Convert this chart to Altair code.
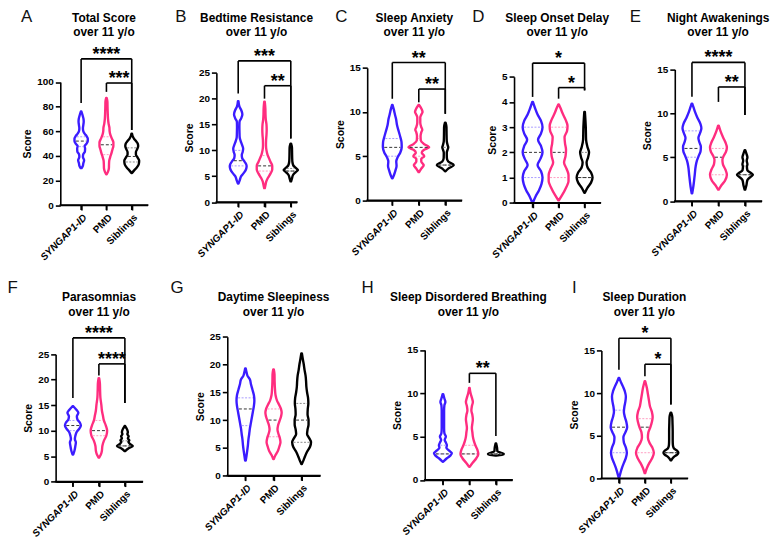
import altair as alt
import numpy as np
import pandas as pd

GROUPS = ["SYNGAP1-ID", "PMD", "Siblings"]
COLORS = ["#3b1cff", "#ff2d7f", "#000000"]
QCOLORS = ["#a99cff", "#ff9dc2", "#8a8a8a"]
LETTERS = ["A", "B", "C", "D", "E", "F", "G", "H", "I"]
TITLES = ["Total Score", "Bedtime Resistance", "Sleep Anxiety", "Sleep Onset Delay",
          "Night Awakenings", "Parasomnias", "Daytime Sleepiness",
          "Sleep Disordered Breathing", "Sleep Duration"]
SUBTITLE = "over 11 y/o"

# violin outlines: (score, half-width)
A_SYN = [(30,0.5),(32,1.8),(34,2.2),(36.5,3),(39,1.8),(41,2),(43.5,3.8),(46,4),(48,3.5),(50,5.5),(52,6.7),(54,6.7),(56,5.5),(58,3.5),(60,2.2),(62.5,1.8),(65,2.2),(68,2.6),(70,2.4),(72,1.8),(74,1.1),(76,0.3)]
A_PMD = [(25,0.3),(27,1.5),(30,2.5),(33,2.6),(36,2.8),(39,3.8),(42,5),(45,6),(48,7),(51,7),(54,5.5),(57,4),(60,3.2),(63,3),(66,2.2),(70,1.6),(75,1.3),(80,1.1),(84,1),(87,0.3)]
A_SIB = [(26,0.3),(28,2.2),(30,4.5),(33,7),(36,7.5),(38.5,6),(41,4.2),(43,4.2),(45.5,5.5),(48,6.5),(50,6),(52,4.2),(54,2.2),(56,0.9),(58,0.3)]
B_SYN = [(3.6,0.3),(4.2,1.5),(5,3),(5.6,5.5),(6.3,7.8),(7,8.5),(7.8,6.5),(8.5,4),(9.1,3.6),(9.7,4.5),(10.3,5),(11,4),(11.8,2.5),(12.5,1.5),(13.5,1.3),(14.5,1.2),(15.5,1.3),(16.2,3),(17,4.2),(17.8,3),(18.5,1.2),(19.5,0.3)]
B_PMD = [(2.7,0.3),(3.3,1),(4,1.8),(4.7,3.5),(5.5,6),(6.3,7.8),(7,7.8),(7.8,6),(8.5,4.5),(9.2,3),(10,2),(11,1.5),(12,1.6),(13,2),(14,2.2),(15,2),(16,1.3),(17,1),(18,0.9),(19.4,0.3)]
B_SIB = [(4,0.3),(4.6,1.2),(5.3,2.5),(5.8,5),(6.2,7.2),(6.6,5),(7.1,2.5),(7.8,1.6),(8.5,1.4),(9.5,1.3),(10.5,1.2),(11.3,0.3)]
C_SYN = [(2.5,0.3),(2.9,1.8),(3.4,3.2),(3.9,4.3),(4.4,4.0),(4.9,5.5),(5.4,8),(6.0,9.5),(6.6,9.3),(7.2,8),(7.8,6.5),(8.5,4.8),(9.2,3.8),(9.8,2.5),(10.3,1.5),(10.8,0.3)]
C_PMD = [(3.2,0.3),(3.6,2.5),(4.0,5),(4.4,2.5),(4.7,2.5),(5.0,5.5),(5.4,3),(5.7,5),(6.0,10.5),(6.4,5),(6.8,2),(7.3,1.8),(7.7,2.5),(8.0,3.5),(8.3,2.5),(8.8,1.5),(9.4,1.5),(9.8,3),(10.0,3.8),(10.3,3),(10.8,0.3)]
C_SIB = [(3.3,0.3),(3.6,3),(4.0,8.5),(4.4,3),(4.8,1.6),(5.4,1.5),(5.8,2.5),(6.0,3),(6.2,2.5),(6.7,1.5),(7.5,1.3),(8.3,1.2),(8.8,0.3)]
D_SYN = [(0,0.3),(0.25,3),(0.5,6.5),(0.75,9),(1.0,10),(1.25,8.5),(1.5,5),(1.75,8),(2.0,10),(2.25,8.5),(2.5,5.5),(2.75,8.5),(3.0,10),(3.25,8.5),(3.5,5),(3.75,2.5),(4.0,0.3)]
D_PMD = [(0.1,0.3),(0.3,3.5),(0.6,7.5),(0.85,10),(1.1,10),(1.35,8),(1.6,5.5),(1.85,7),(2.1,7.5),(2.35,6.5),(2.6,6),(2.85,8.5),(3.05,9),(3.3,7),(3.55,4),(3.75,2),(3.9,0.3)]
D_SIB = [(0.4,0.3),(0.6,3),(0.8,6.5),(1.0,8),(1.2,6.5),(1.4,3),(1.6,2),(1.8,3.5),(2.0,4.5),(2.2,3),(2.5,1.5),(3.0,1.2),(3.6,0.3)]
E_SYN = [(0.9,0.3),(1.5,1.2),(2.2,2),(3,2.8),(4,3.8),(4.6,5),(5.2,7),(5.7,8.7),(6.2,9),(6.7,7.5),(7.2,6.5),(7.7,8),(8.3,9.5),(8.8,8.5),(9.5,5.5),(10.2,3),(10.7,1.5),(11.1,0.3)]
E_PMD = [(1.3,0.3),(1.8,3),(2.3,6.5),(3.0,8.5),(3.6,7),(4.2,4.5),(4.7,4),(5.2,5.5),(5.6,7.5),(6.1,8.5),(6.7,7),(7.3,4.5),(8.0,2),(8.6,0.3)]
E_SIB = [(1.3,0.3),(1.8,1.5),(2.4,2.5),(2.8,6),(3.0,8),(3.2,6),(3.5,2.5),(3.9,2),(4.2,2.5),(4.6,1.8),(5.0,2.5),(5.4,1.5),(5.8,0.3)]
F_SYN = [(5.3,0.3),(6,1.5),(7,2.5),(7.7,3),(8.3,2),(9,2.5),(9.8,4),(10.4,6.5),(11,8),(11.6,7),(12.2,4.5),(12.8,4),(13.5,5.5),(14.1,3.5),(14.8,0.3)]
F_PMD = [(4.7,0.3),(5.3,2),(6,3),(7,3.5),(8,5),(9,7.5),(10,8.3),(11,7),(12,5),(13,4),(14,3),(15,2.5),(16.5,1.5),(18,1.2),(19.3,1),(20.3,0.3)]
F_SIB = [(6.0,0.3),(6.5,3.5),(7.0,8),(7.4,5),(7.8,3.5),(8.1,4.5),(8.5,3),(8.9,3.8),(9.3,2.5),(9.7,3),(10.1,2.5),(10.5,1.5),(10.9,0.3)]
G_SYN = [(2.7,0.3),(3.5,1),(4.5,1.8),(5.5,2.5),(6.5,3),(7.5,3.8),(8.5,4.5),(9.5,5.5),(10.5,6.5),(11.5,7.5),(12.5,8.5),(13.5,9),(14.5,8.5),(15.5,7),(16.5,5.5),(17.3,4.5),(18,2),(18.7,1),(19.3,0.3)]
G_PMD = [(3,0.3),(3.7,2),(4.5,4.5),(5.3,6),(6,7),(6.8,6.3),(7.5,5),(8.3,4),(9,4.5),(9.8,6),(10.6,7.5),(11.3,8.2),(12,7.5),(12.8,5.5),(13.5,3.5),(14.5,2),(15.5,1.5),(17,1.1),(18.2,1),(19.1,0.3)]
G_SIB = [(2.1,0.3),(2.8,2),(3.5,3.5),(4.3,5.5),(5.2,8.5),(6,9.5),(6.8,7.5),(7.5,5.5),(8.3,6),(9.2,7),(10,7),(11,6),(12,6.2),(13,6.8),(14,6.5),(15,5.5),(16,4.8),(17,4.5),(18,4),(19,3),(20,2.2),(21,1.2),(22,0.3)]
H_SYN = [(2.1,0.3),(2.5,4),(2.8,7.5),(3.1,9),(3.4,6),(3.7,3.5),(4.0,4),(4.3,3),(4.6,1.8),(5.0,3),(5.4,1.5),(6,1.2),(7,1.2),(8,1.2),(8.6,1.5),(9.0,2.5),(9.4,1.5),(9.9,0.3)]
H_PMD = [(1.5,0.3),(2,3.5),(2.5,7),(3,9),(3.5,8),(4,6),(4.5,4.5),(5,3.5),(5.5,3),(6,2.5),(6.5,3),(7,3.5),(7.5,3),(8,2),(8.5,2.5),(9,3.5),(9.5,2.5),(10,1.2),(10.6,0.3)]
H_SIB = [(2.8,0.3),(2.9,6),(3.0,8),(3.1,6),(3.3,1.5),(3.7,1.2),(4.2,0.3)]
I_SYN = [(0.1,0.3),(0.6,1.5),(1.2,3),(1.8,5),(2.4,7),(3.0,8),(3.6,7),(4.2,5),(4.8,4.5),(5.4,6.5),(6.0,8.3),(6.6,7.5),(7.2,6),(7.8,5),(8.4,5.5),(9,6.5),(9.6,7),(10.2,6),(10.8,4),(11.3,2),(11.8,0.3)]
I_PMD = [(0.6,0.3),(1.2,2),(1.8,4.5),(2.4,7.5),(3.0,9),(3.6,7.5),(4.2,4.5),(4.8,3),(5.4,3.5),(6.0,5.5),(6.6,7),(7.2,7.8),(7.8,7),(8.5,5),(9.2,4),(9.9,3),(10.6,2),(11.4,0.3)]
I_SIB = [(2.1,0.3),(2.5,3),(2.8,6.5),(3.0,7.5),(3.2,6.5),(3.5,3),(3.9,2),(4.5,1.8),(5.5,1.8),(6.5,1.6),(7.2,1.4),(7.7,0.3)]

# quartiles (q1, median, q3) per group
A_Q = [(47.5,52,55.5),(41,49,55.5),(35,39.5,46.5)]
B_Q = [(7,8,10),(6,7,9),(6,6,6.5)]
C_Q = [(5,6,7),(5,6,7),(4,4,6)]
D_Q = [(1,2,3),(1,2,3),(1,1,2)]
E_Q = [(5,6,8),(3,5,6),(3,3,4)]
F_Q = [(10,11,12),(9,10,12),(7,7,8)]
G_Q = [(9,12,14),(7,10,12),(6,10,13)]
H_Q = [(3,3,4),(3,3,4),(3,3,3)]
I_Q = [(3,6,8),(3,6,7),(3,3,3)]

# significance brackets: (from group, to group, top, left end, right end, label)
A_BR = [(0,2,118.8,83,61,"****"),(1,2,99.2,92,61,"***")]
B_BR = [(0,2,27.3,21,12.3,"***"),(1,2,22.5,20,12.3,"**")]
C_BR = [(0,2,15.6,11.5,9.8,"**"),(1,2,12.6,11.1,9.8,"**")]
D_BR = [(0,2,5.54,4.2,4.46,"*"),(1,2,4.57,4.13,4.46,"*")]
E_BR = [(0,2,15.8,11.9,9.8,"****"),(1,2,13.0,11.3,9.8,"**")]
F_BR = [(0,2,28.2,16.4,15.4,"****"),(1,2,23.1,20.8,15.4,"****")]
G_BR = []
H_BR = [(1,2,12.3,11.2,5.07,"**")]
I_BR = [(0,2,16.45,12.75,8.67,"*"),(1,2,13.4,12.0,8.67,"*")]

TICKS = {
    "A": [0, 20, 40, 60, 80, 100], "B": [0, 5, 10, 15, 20, 25], "C": [0, 5, 10, 15],
    "D": [0, 1, 2, 3, 4, 5], "E": [0, 5, 10, 15], "F": [0, 5, 10, 15, 20, 25],
    "G": [0, 5, 10, 15, 20, 25], "H": [0, 5, 10, 15], "I": [0, 5, 10, 15],
}
CATS = [0, 1, 2]

PROFILES = {"A": [A_SYN, A_PMD, A_SIB], "B": [B_SYN, B_PMD, B_SIB], "C": [C_SYN, C_PMD, C_SIB],
            "D": [D_SYN, D_PMD, D_SIB], "E": [E_SYN, E_PMD, E_SIB], "F": [F_SYN, F_PMD, F_SIB],
            "G": [G_SYN, G_PMD, G_SIB], "H": [H_SYN, H_PMD, H_SIB], "I": [I_SYN, I_PMD, I_SIB]}
QUARTS = {"A": A_Q, "B": B_Q, "C": C_Q, "D": D_Q, "E": E_Q, "F": F_Q, "G": G_Q, "H": H_Q, "I": I_Q}
BRACKETS = {"A": A_BR, "B": B_BR, "C": C_BR, "D": D_BR, "E": E_BR, "F": F_BR, "G": G_BR, "H": H_BR, "I": I_BR}

# ---- layout (page pixels) ----
X0 = 54.3
ROW_T = [65.5, 336.5]
ROW_B = [204.0, 482.7]
# key: (plot left, plot width, plot top, plot bottom, first category offset, category spacing)
LAYOUT = {
    "A": (59.0, 88.0, 80.0, 204.0, 21.0, 25.5),
    "B": (215.7, 81.0, 70.7, 201.0, 22.0, 26.5),
    "C": (367.0, 95.0, 65.7, 199.3, 25.3, 26.7),
    "D": (515.0, 87.0, 74.7, 201.7, 18.7, 26.2),
    "E": (676.7, 87.3, 67.3, 200.0, 17.3, 26.7),
    "F": (54.3, 87.4, 354.3, 482.7, 17.4, 26.2),
    "G": (226.7, 93.3, 336.7, 476.7, 18.3, 28.3),
    "H": (425.0, 88.0, 350.0, 481.0, 18.3, 26.7),
    "I": (602.3, 86.7, 350.7, 479.3, 17.7, 26.2),
}
LETTER_POS = {"A": (25, 20), "B": (180, 20), "C": (341, 20), "D": (479, 20), "E": (637, 20),
              "F": (11, 292.5), "G": (176, 292.5), "H": (367.5, 292.5), "I": (575, 292.5)}
TITLE_Y = [(20, 34), (301, 315.5)]
ROWS = [["A", "B", "C", "D", "E"], ["F", "G", "H", "I"]]

FONT = "Liberation Sans"
LABEL_EXPR = "['" + "','".join(GROUPS) + "'][datum.value]"
AXIS_W = 1.6
TICK_LEN = 5


def build_panel(key, L, W, T, H, tys):
    p, w, t, b, c0, sp = LAYOUT[key]
    pad = p - L
    ticks = TICKS[key]
    xs = alt.Scale(domain=[-c0 / sp, (w - c0) / sp], range=[pad, pad + w], nice=False, zero=False)
    ys = alt.Scale(domain=[0, ticks[-1]], range=[b - T, t - T], nice=False, zero=False)
    xax = alt.Axis(values=CATS, labelExpr=LABEL_EXPR, labelAngle=-45, title=None,
                   offset=(b - T) - H, labelAlign="right", labelBaseline="top",
                   labelOverlap=False, labelBound=False, labelFlush=False, zindex=2,
                   labelPadding=2,
                   labelFontStyle={"condition": {"test": "datum.value == 0", "value": "italic"}, "value": "normal"})
    yax = alt.Axis(values=ticks, title="Score", offset=-pad, labelOverlap=False, zindex=2)

    def X(f):
        return alt.X(f, type="quantitative", scale=xs, axis=xax)

    def Y(f):
        return alt.Y(f, type="quantitative", scale=ys, axis=yax)

    prof = PROFILES[key]
    vdf = pd.DataFrame([{"g": g, "score": s, "hw": h} for g in range(3) for s, h in prof[g]])
    calc = {"lo": f"datum.g - datum.hw / {sp}", "hi": f"datum.g + datum.hw / {sp}"}
    violin = alt.Chart(vdf).transform_calculate(**calc).mark_area(
        orient="horizontal", interpolate="monotone", fill="white", fillOpacity=1,
        strokeWidth=2.4, strokeJoin="round"
    ).encode(
        y=Y("score"), x=X("lo"), x2=alt.X2("hi"),
        stroke=alt.Stroke("g:N", scale=alt.Scale(domain=[0, 1, 2], range=COLORS), legend=None),
        detail="g:N",
    )

    qrows = []
    for g in range(3):
        ss = [s for s, _ in prof[g]]
        hs = [h for _, h in prof[g]]
        for kind, v in zip(("q1", "med", "q3"), QUARTS[key][g]):
            hw = max(float(np.interp(v, ss, hs)) - 1.4, 0.6)
            qrows.append({"g": g, "score": v, "hw": hw, "kind": kind})
    qdf = pd.DataFrame(qrows)
    quart = alt.Chart(qdf).transform_filter("datum.kind != 'med'").transform_calculate(**calc).mark_rule(
        strokeWidth=1, strokeDash=[2, 1.5]
    ).encode(
        y=Y("score"), x=X("lo"), x2=alt.X2("hi"),
        stroke=alt.Stroke("g:N", scale=alt.Scale(domain=[0, 1, 2], range=QCOLORS), legend=None),
    )
    med = alt.Chart(qdf).transform_filter("datum.kind == 'med'").transform_calculate(**calc).mark_rule(
        strokeWidth=1, strokeDash=[3, 2], color="#333333"
    ).encode(y=Y("score"), x=X("lo"), x2=alt.X2("hi"))

    # category axis baseline and its ticks, drawn through the scales
    base = alt.Chart(pd.DataFrame({"score": [0]})).mark_rule(
        color="black", strokeWidth=AXIS_W, strokeCap="square"
    ).encode(y=Y("score"), x=alt.value(pad), x2=alt.value(pad + w))
    cticks = alt.Chart(pd.DataFrame({"lo": CATS, "score": [0] * 3})).mark_rule(
        color="black", strokeWidth=AXIS_W
    ).encode(x=X("lo"), y=Y("score"), y2=alt.value(b - T + TICK_LEN))

    layers = [violin, quart, med, base, cticks]

    br = BRACKETS[key]
    if br:
        seg = []
        lab = []
        for x1, x2, yt, yl, yr, text in br:
            seg.append({"lo": x1, "hi": x2, "score": yt, "score2": yt})
            seg.append({"lo": x1, "hi": x1, "score": yl, "score2": yt})
            seg.append({"lo": x2, "hi": x2, "score": yr, "score2": yt})
            lab.append({"lo": (x1 + x2) / 2, "score": yt, "lab": text})
        rules = alt.Chart(pd.DataFrame(seg)).mark_rule(color="black", strokeWidth=1.6).encode(
            x=X("lo"), x2=alt.X2("hi"), y=Y("score"), y2=alt.Y2("score2"))
        stars = alt.Chart(pd.DataFrame(lab)).mark_text(
            fontSize=18, fontWeight="bold", baseline="alphabetic", align="center", dy=1, color="black", font=FONT
        ).encode(x=X("lo"), y=Y("score"), text="lab:N")
        layers += [rules, stars]

    idx = LETTERS.index(key)
    t1 = alt.Chart(pd.DataFrame({"t": [TITLES[idx]]})).mark_text(
        fontSize=12, fontWeight="bold", baseline="alphabetic", align="center", color="black", font=FONT
    ).encode(text="t:N", x=alt.value(pad + w / 2), y=alt.value(tys[0] - T))
    t2 = alt.Chart(pd.DataFrame({"t": [SUBTITLE]})).mark_text(
        fontSize=12, fontWeight="bold", baseline="alphabetic", align="center", color="black", font=FONT
    ).encode(text="t:N", x=alt.value(pad + w / 2), y=alt.value(tys[1] - T))
    lx, ly = LETTER_POS[key]
    letter = alt.Chart(pd.DataFrame({"t": [key]})).mark_text(
        fontSize=17, baseline="alphabetic", align="center", color="#111111", font=FONT
    ).encode(text="t:N", x=alt.value(lx - L), y=alt.value(ly - T))
    layers += [t1, t2, letter]

    return alt.layer(*layers).resolve_scale(stroke="independent").properties(width=W, height=H)


rows = []
for r, keys in enumerate(ROWS):
    T = ROW_T[r]
    H = ROW_B[r] - T
    panels = []
    for j, key in enumerate(keys):
        L = X0 if j == 0 else LAYOUT[key][0]
        if j + 1 < len(keys):
            W = LAYOUT[keys[j + 1]][0] - L
        else:
            W = LAYOUT[key][0] + LAYOUT[key][1] - L + 1
        panels.append(build_panel(key, L, W, T, H, TITLE_Y[r]))
    rows.append(alt.hconcat(*panels, spacing=0, bounds="flush"))

# with flush bounds a nested row counts as zero height, so the spacing is the top-to-top distance
chart = alt.vconcat(rows[0], rows[1], spacing=ROW_T[1] - ROW_T[0], bounds="flush").properties(
    padding={"left": -1, "top": -2, "right": 5, "bottom": 5}
).configure(font=FONT).configure_view(stroke=None).configure_axis(
    grid=False, domainColor="black", domainWidth=AXIS_W, tickColor="black", tickWidth=AXIS_W, tickSize=TICK_LEN,
    labelFont=FONT, labelFontSize=10, labelFontWeight="bold", labelColor="black", labelPadding=2,
    titleFont=FONT, titleFontSize=10.5, titleFontWeight="bold", titleColor="black", titlePadding=4,
)

chart.save("out.html", embed_options={"renderer": "svg", "actions": False})
